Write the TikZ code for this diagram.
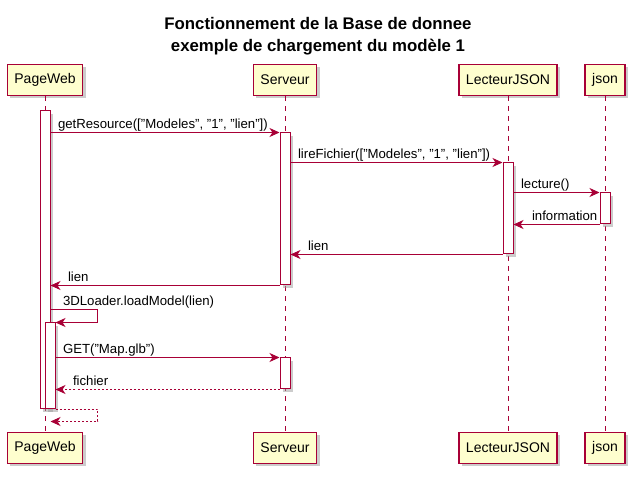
\documentclass[tikz,border=0pt]{standalone}
\usepackage{fontspec}
\setmainfont{Liberation Sans}
\usetikzlibrary{arrows.meta,shadows}

\definecolor{umlred}{HTML}{A80036}
\definecolor{umlyellow}{HTML}{FEFECE}
\newlength\px
\setlength\px{0.75pt}
\newcommand\qt{\symbol{34}}

\tikzset{
  > = {Stealth[length=7.5pt, width=6.75pt, inset=2.25pt]},
  part/.style = {draw = umlred, fill = umlyellow, line width = 1.5\px,
    font = \fontsize{10.5}{12}\selectfont, minimum height = 31\px,
    inner xsep = 7\px,
    drop shadow = {shadow xshift = 3\px, shadow yshift = -3\px, fill = black!40, opacity = 0.5}},
  act/.style = {draw = umlred, fill = white, line width = 1\px,
    minimum width = 10\px, inner sep = 0pt,
    drop shadow = {shadow xshift = 3\px, shadow yshift = -3\px, fill = black!40, opacity = 0.5}},
  lifeline/.style = {draw = umlred, line width = 1\px, dash pattern = on 5\px off 5\px},
  msg/.style = {draw = umlred, line width = 1\px, ->},
  reply/.style = {msg, dash pattern = on 2\px off 2\px},
  lbl/.style = {font = \fontsize{9.9}{11}\selectfont, anchor = base west,
    inner sep = 0pt, yshift = 4\px}
}

\begin{document}
\begin{tikzpicture}[x = 0.75pt, y = -0.75pt]
  \useasboundingbox (0,0) rectangle (636,477);

  \node (title) [font = \bfseries\fontsize{12.6}{16.5}\selectfont, align = center]
    at (318,36) {Fonctionnement de la Base de donnee\\ exemple de chargement du modèle 1};

  % participants
  \node (pw) [part] at (45,80) {PageWeb};
  \node (sv) [part] at (285,80) {Serveur};
  \node (lj) [part] at (508,80) {LecteurJSON};
  \node (js) [part] at (605,80) {json};
  \node (pwb) [part] at (45,448) {PageWeb};
  \node (svb) [part] at (285,448) {Serveur};
  \node (ljb) [part] at (508,448) {LecteurJSON};
  \node (jsb) [part] at (605,448) {json};

  \draw [lifeline] (pw.south) -- (pwb.north);
  \draw [lifeline] (sv.south) -- (svb.north);
  \draw [lifeline] (lj.south) -- (ljb.north);
  \draw [lifeline] (js.south) -- (jsb.north);

  % activations
  \node (pwA) [act, minimum height = 298\px] at (45,260) {};
  \node (svA) [act, minimum height = 152\px] at (285,209) {};
  \node (ljA) [act, minimum height = 91\px] at (508,208.5) {};
  \node (jsA) [act, minimum height = 31\px] at (605,208.5) {};
  \node (pwB) [act, minimum height = 86\px] at (50,366) {};
  \node (svB) [act, minimum height = 31\px] at (285,373.5) {};

  % messages
  \draw [msg] (pwA.east |- svA.north west)
    node [lbl, xshift = 7\px] (m1) {getResource([\qt Modeles\qt, \qt 1\qt, \qt lien\qt])} -- (svA.north west);
  \draw [msg] (svA.east |- ljA.north west)
    node [lbl, xshift = 7\px] (m2) {lireFichier([\qt Modeles\qt, \qt 1\qt, \qt lien\qt])} -- (ljA.north west);
  \draw [msg] (ljA.east |- jsA.north west)
    node [lbl, xshift = 7\px] (m3) {lecture()} -- (jsA.north west);
  \draw [msg] (jsA.south west) -- (ljA.east |- jsA.south west)
    node [lbl, xshift = 18\px] (m4) {information};
  \draw [msg] (ljA.south west) -- (svA.east |- ljA.south west)
    node [lbl, xshift = 17\px] (m5) {lien};
  \draw [msg] (svA.south west) -- (pwA.east |- svA.south west)
    node [lbl, xshift = 17\px] (m6) {lien};
  \draw [msg] (pwA.east |- 0,310)
    node [lbl, xshift = 12\px] (m7) {3DLoader.loadModel(lien)}
    -- ++(47,0) |- (pwB.north east);
  \draw [msg] (pwB.east |- svB.north west)
    node [lbl, xshift = 7\px] (m8) {GET(\qt Map.glb\qt)} -- (svB.north west);
  \draw [reply] (svB.south west) -- (pwB.east |- svB.south west)
    node [lbl, xshift = 17\px] (m9) {fichier};
  \draw [reply] (pwB.south east)
    -- ++(42,0) -- ++(0,12) -- ++(-47,0);
\end{tikzpicture}
\end{document}
